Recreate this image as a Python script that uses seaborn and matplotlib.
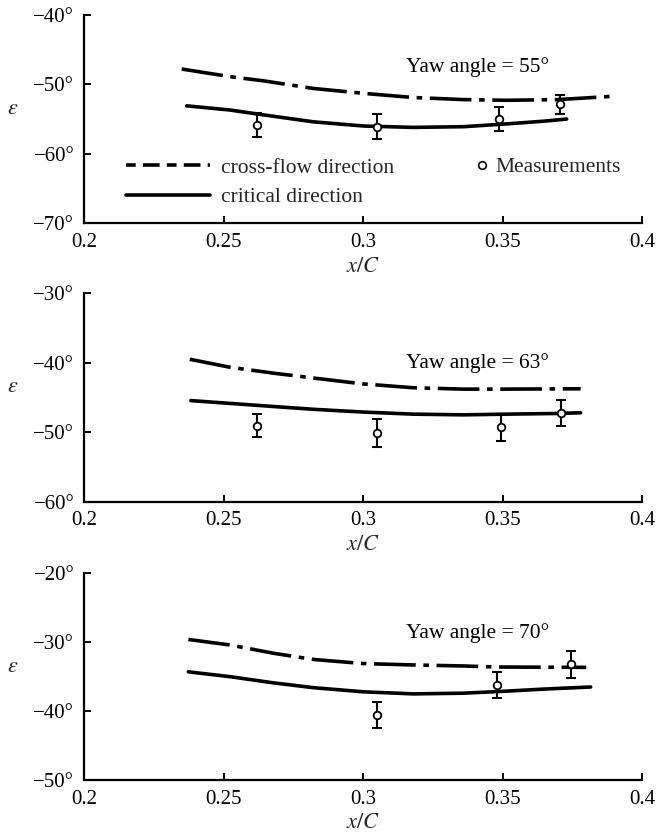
import matplotlib
matplotlib.use("Agg")
import matplotlib.pyplot as plt
from matplotlib.lines import Line2D
import seaborn as sns
import pandas as pd

# ---------------- data ----------------
yaw_angles = [55, 63, 70]

# Yaw 55
cf55_x = [0.235, 0.2523, 0.2643, 0.2822, 0.3001, 0.318, 0.336, 0.3515, 0.370, 0.3907]
cf55_y = [-47.8, -48.9, -49.5, -50.6, -51.3, -51.9, -52.2, -52.3, -52.2, -51.7]
cr55_x = [0.2368, 0.2523, 0.2643, 0.2822, 0.3001, 0.318, 0.336, 0.3515, 0.365, 0.373]
cr55_y = [-53.1, -53.7, -54.4, -55.4, -56.0, -56.2, -56.1, -55.7, -55.3, -55.0]
ms55_x = [0.262, 0.3051, 0.3489, 0.3707]
ms55_y = [-55.9, -56.1, -55.0, -52.9]
ms55_e = [1.75, 1.8, 1.7, 1.4]

# Yaw 63
cf63_x = [0.2379, 0.2523, 0.2679, 0.2822, 0.3001, 0.318, 0.336, 0.349, 0.378]
cf63_y = [-39.5, -40.65, -41.5, -42.2, -43.05, -43.6, -43.8, -43.8, -43.75]
cr63_x = [0.2383, 0.2523, 0.2679, 0.2822, 0.3001, 0.318, 0.336, 0.3515, 0.370, 0.378]
cr63_y = [-45.45, -45.85, -46.3, -46.7, -47.1, -47.4, -47.5, -47.4, -47.3, -47.2]
ms63_x = [0.262, 0.305, 0.3495, 0.3708]
ms63_y = [-49.1, -50.1, -49.3, -47.2]
ms63_e = [1.65, 2.0, 1.9, 1.9]

# Yaw 70
cf70_x = [0.2374, 0.2523, 0.2679, 0.2822, 0.3001, 0.318, 0.336, 0.348, 0.380]
cf70_y = [-29.6, -30.4, -31.6, -32.5, -33.1, -33.3, -33.45, -33.6, -33.65]
cr70_x = [0.2374, 0.2523, 0.2679, 0.2822, 0.3001, 0.318, 0.336, 0.3515, 0.365, 0.3816]
cr70_y = [-34.3, -35.0, -35.9, -36.6, -37.2, -37.5, -37.4, -37.1, -36.8, -36.5]
ms70_x = [0.3051, 0.348, 0.3744]
ms70_y = [-40.55, -36.2, -33.2]
ms70_e = [1.85, 1.85, 1.95]

x_ticks = [0.2, 0.25, 0.3, 0.35, 0.4]
x_tick_labels = ["0.2", "0.25", "0.3", "0.35", "0.4"]
y_ticks_55 = [-70, -60, -50, -40]
y_ticks_63 = [-60, -50, -40, -30]
y_ticks_70 = [-50, -40, -30, -20]

legend_labels = ["cross-flow direction", "critical direction", "Measurements"]

panels = [
    (55, cf55_x, cf55_y, cr55_x, cr55_y, ms55_x, ms55_y, ms55_e, y_ticks_55, -47.5),
    (63, cf63_x, cf63_y, cr63_x, cr63_y, ms63_x, ms63_y, ms63_e, y_ticks_63, -40.0),
    (70, cf70_x, cf70_y, cr70_x, cr70_y, ms70_x, ms70_y, ms70_e, y_ticks_70, -28.7),
]

# ---------------- style ----------------
sns.set_theme(style="ticks")
plt.rcParams["font.family"] = ["Liberation Serif", "DejaVu Serif"]
plt.rcParams["mathtext.fontset"] = "stix"
plt.rcParams["axes.edgecolor"] = "black"
plt.rcParams["axes.linewidth"] = 1.5

fig = plt.figure(figsize=(6.58, 8.36), dpi=100)
fig.patch.set_facecolor("white")

ax_rects = [
    [0.1277, 0.7329, 0.848, 0.2494],
    [0.1277, 0.3999, 0.848, 0.2493],
    [0.1277, 0.0670, 0.848, 0.2472],
]

LW = 2.6
# dash pattern in points: long dash, gap, dot, gap
DASH_PTS = [30, 5.5, 4.0, 5.5]

for i, (yaw, cfx, cfy, crx, cry, mx, my, me, yt, ann_y) in enumerate(panels):
    ax = fig.add_axes(ax_rects[i])
    ax.set_facecolor("white")

    df_cf = pd.DataFrame({"x": cfx, "y": cfy})
    df_cr = pd.DataFrame({"x": crx, "y": cry})
    df_m = pd.DataFrame({"x": mx, "y": my, "e": me})

    sns.lineplot(data=df_cf, x="x", y="y", ax=ax, color="black", linewidth=LW,
                 sort=False, estimator=None, legend=False)
    cf_line = ax.lines[-1]
    cf_line.set_linestyle((0, [d / LW for d in DASH_PTS]))
    cf_line.set_dash_capstyle("butt")
    sns.lineplot(data=df_cr, x="x", y="y", ax=ax, color="black", linewidth=LW,
                 sort=False, estimator=None, legend=False)
    ax.errorbar(df_m["x"], df_m["y"], yerr=df_m["e"], fmt="none", ecolor="black",
                elinewidth=1.5, capsize=3.6, capthick=1.5, zorder=4)
    sns.scatterplot(data=df_m, x="x", y="y", ax=ax, marker="o", s=30,
                    facecolor="white", edgecolor="black", linewidth=1.3,
                    zorder=5, legend=False)

    ax.set_xlim(0.2, 0.4)
    ax.set_ylim(yt[0], yt[-1])
    ax.set_xticks(x_ticks)
    ax.set_xticklabels(x_tick_labels)
    ax.set_yticks(yt)
    ax.set_yticklabels([f"\u2212{abs(v)}\u00b0" for v in yt])
    ax.tick_params(axis="both", direction="in", length=5, width=1.4,
                   labelsize=15, colors="black", pad=7)
    sns.despine(ax=ax)
    for s in ("left", "bottom"):
        ax.spines[s].set_linewidth(1.6)

    ax.set_xlabel("$x/C$", fontsize=16, labelpad=4)
    ax.set_ylabel("$\\epsilon$", fontsize=16, rotation=0)
    ax.yaxis.set_label_coords(-0.127, 0.5)

    ax.text(0.3155, ann_y, f"Yaw angle = {yaw}\u00b0", fontsize=15.5,
            ha="left", va="center", color="black")

    if i == 0:
        h1 = Line2D([], [], color="black", linewidth=LW,
                    linestyle=(0, [3.5 / LW * 2, 2.0, 6.0 / LW * 2, 2.0]))
        h2 = Line2D([], [], color="black", linewidth=LW)
        leg1 = ax.legend([h1, h2], legend_labels[:2], loc="center left",
                         bbox_to_anchor=(0.0753, 0.1955), frameon=False,
                         fontsize=15.5, handlelength=3.9, handletextpad=0.5,
                         labelspacing=0.45, borderpad=0, borderaxespad=0)
        ax.add_artist(leg1)
        h3 = Line2D([], [], color="black", linestyle="none", marker="o",
                    markersize=5.5, markerfacecolor="white", markeredgewidth=1.2)
        ax.legend([h3], legend_labels[2:], loc="center left",
                  bbox_to_anchor=(0.698, 0.27), frameon=False, fontsize=15.5,
                  handlelength=0.8, handletextpad=0.2, borderpad=0,
                  borderaxespad=0)

fig.savefig("out.png", dpi=100, facecolor="white")
